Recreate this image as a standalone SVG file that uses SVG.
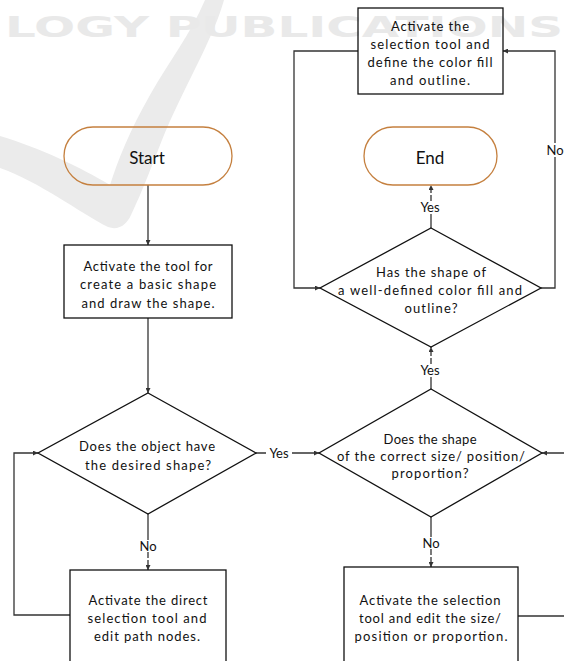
<svg xmlns="http://www.w3.org/2000/svg" width="564" height="661" viewBox="0 0 564 661">
  <defs>
    <style>
      .box { fill: none; stroke: #111; stroke-width: 1.3; }
      .term { fill: none; stroke: #c5803f; stroke-width: 1.3; }
      .t { font-family: Lato, "Liberation Sans", sans-serif; font-size: 13px; fill: #111; text-anchor: middle; }
      .big { font-size: 17px; }
      .lbl { font-family: Lato, "Liberation Sans", sans-serif; font-size: 13px; fill: #111; text-anchor: middle; }
      .conn { fill: none; stroke: #333; stroke-width: 1.3; }
      .dash { stroke-dasharray: 6 2; }
      .bg { fill: #fff; }
      .wm { fill: #ebebeb; }
    </style>
    <marker id="ah" viewBox="0 0 6 6" refX="6" refY="3" markerWidth="5" markerHeight="5" markerUnits="userSpaceOnUse" orient="auto">
      <path d="M0,0 L6,3 L0,6 z" fill="#333"/>
    </marker>
  </defs>

  <rect width="564" height="661" fill="#fff"/>

  <!-- faint publisher watermark -->
  <g id="watermark">
    <path class="wm" d="M205,0 L224,0 C213,40 182,90 162,140 C152,165 143,190 131,215 C127,224 119,231 108,227 C80,213 40,182 0,168 L0,136 C40,148 80,167 110,185 C118,160 130,130 150,95 C170,60 190,35 205,0 Z"/>
    <text x="5" y="37" font-family="'DejaVu Sans', sans-serif" font-weight="bold" font-size="29" fill="#e9e9e9" textLength="558" lengthAdjust="spacingAndGlyphs">LOGY PUBLICATIONS</text>
  </g>

  <!-- connectors -->
  <g id="connectors">
    <line class="conn" x1="148" y1="185" x2="148" y2="245" marker-end="url(#ah)"/>
    <line class="conn" x1="148" y1="318" x2="148" y2="393" marker-end="url(#ah)"/>
    <!-- decision 1: Yes -->
    <line class="conn" x1="256" y1="453" x2="319" y2="453" marker-end="url(#ah)"/>
    <!-- decision 1: No -->
    <line class="conn" x1="148" y1="514" x2="148" y2="540"/>
    <line class="conn dash" x1="148" y1="552" x2="148" y2="570" marker-end="url(#ah)"/>
    <!-- direct selection loops back -->
    <polyline class="conn" points="70,615 14,615 14,453 38,453" marker-end="url(#ah)"/>
    <!-- decision 2: No -->
    <line class="conn" x1="431" y1="517" x2="431" y2="537"/>
    <line class="conn dash" x1="431" y1="549" x2="431" y2="567" marker-end="url(#ah)"/>
    <!-- resize loops back -->
    <polyline class="conn" points="518,616 570,616 570,453 542,453" marker-end="url(#ah)"/>
    <!-- decision 2: Yes -->
    <line class="conn" x1="431" y1="389" x2="431" y2="377"/>
    <line class="conn dash" x1="431" y1="364" x2="431" y2="347" marker-end="url(#ah)"/>
    <!-- decision 3: Yes -->
    <line class="conn" x1="431" y1="228" x2="431" y2="214"/>
    <line class="conn dash" x1="431" y1="201" x2="431" y2="185" marker-end="url(#ah)"/>
    <!-- decision 3: No -->
    <polyline class="conn" points="541,288 555,288 555,51 503,51" marker-end="url(#ah)"/>
    <!-- fill/outline step back to decision 3 -->
    <polyline class="conn" points="358,51 294,51 294,288 320,288" marker-end="url(#ah)"/>

    <!-- labels -->
    <rect class="bg" x="266" y="446" width="26" height="15"/>
    <text class="lbl" x="279" y="458">Yes</text>
    <rect class="bg" x="139" y="540" width="18" height="12"/>
    <text class="lbl" x="148" y="550.5">No</text>
    <rect class="bg" x="422" y="537" width="18" height="12"/>
    <text class="lbl" x="431" y="547.5">No</text>
    <rect class="bg" x="418" y="364" width="26" height="13"/>
    <text class="lbl" x="430" y="375">Yes</text>
    <rect class="bg" x="418" y="201" width="26" height="13"/>
    <text class="lbl" x="430" y="212">Yes</text>
    <rect class="bg" x="545" y="143" width="19" height="14"/>
    <text class="lbl" x="555" y="154.5">No</text>
  </g>

  <!-- nodes -->
  <g id="start">
    <rect class="term" x="64" y="127" width="168" height="58" rx="29"/>
    <text class="t big" x="147" y="164">Start</text>
  </g>

  <g id="draw-shape">
    <rect class="box" x="64" y="245" width="168" height="73"/>
    <text class="t" x="148" y="271" textLength="129" lengthAdjust="spacing">Activate the tool for</text>
    <text class="t" x="148" y="289" textLength="136" lengthAdjust="spacing">create a basic shape</text>
    <text class="t" x="148" y="307.5" textLength="133" lengthAdjust="spacing">and draw the shape.</text>
  </g>

  <g id="check-shape">
    <polygon class="box" points="148,393 256,453 148,514 38,453"/>
    <text class="t" x="147" y="450.5" textLength="136" lengthAdjust="spacing">Does the object have</text>
    <text class="t" x="148" y="469.5" textLength="126" lengthAdjust="spacing">the desired shape?</text>
  </g>

  <g id="direct-select">
    <rect class="box" x="70" y="570" width="156" height="100"/>
    <text class="t" x="148" y="604.5" textLength="119" lengthAdjust="spacing">Activate the direct</text>
    <text class="t" x="147" y="622.5" textLength="119" lengthAdjust="spacing">selection tool and</text>
    <text class="t" x="147" y="641" textLength="106" lengthAdjust="spacing">edit path nodes.</text>
  </g>

  <g id="check-size">
    <polygon class="box" points="431,389 542,453 431,517 319,453"/>
    <text class="t" x="430" y="443.5" textLength="93" lengthAdjust="spacing">Does the shape</text>
    <text class="t" x="431" y="460.5" textLength="188" lengthAdjust="spacing">of the correct size/ position/</text>
    <text class="t" x="430" y="477.5" textLength="77" lengthAdjust="spacing">proportion?</text>
  </g>

  <g id="resize">
    <rect class="box" x="344" y="567" width="174" height="100"/>
    <text class="t" x="430" y="605" textLength="141" lengthAdjust="spacing">Activate the selection</text>
    <text class="t" x="430" y="622.5" textLength="142" lengthAdjust="spacing">tool and edit the size/</text>
    <text class="t" x="431" y="641" textLength="153" lengthAdjust="spacing">position or proportion.</text>
  </g>

  <g id="check-fill">
    <polygon class="box" points="431,228 541,288 431,347 320,288"/>
    <text class="t" x="431" y="277" textLength="110" lengthAdjust="spacing">Has the shape of</text>
    <text class="t" x="430" y="294.5" textLength="184" lengthAdjust="spacing">a well-defined color fill and</text>
    <text class="t" x="431" y="312.5" textLength="53" lengthAdjust="spacing">outline?</text>
  </g>

  <g id="set-fill">
    <rect class="box" x="358" y="8" width="145" height="86"/>
    <text class="t" x="430" y="30.5" textLength="78" lengthAdjust="spacing">Activate the</text>
    <text class="t" x="430" y="48.5" textLength="119" lengthAdjust="spacing">selection tool and</text>
    <text class="t" x="430" y="66.5" textLength="125" lengthAdjust="spacing">define the color fill</text>
    <text class="t" x="430" y="84.5" textLength="80" lengthAdjust="spacing">and outline.</text>
  </g>

  <g id="end">
    <rect class="term" x="364" y="127" width="133" height="58" rx="29"/>
    <text class="t big" x="430" y="164">End</text>
  </g>
</svg>
